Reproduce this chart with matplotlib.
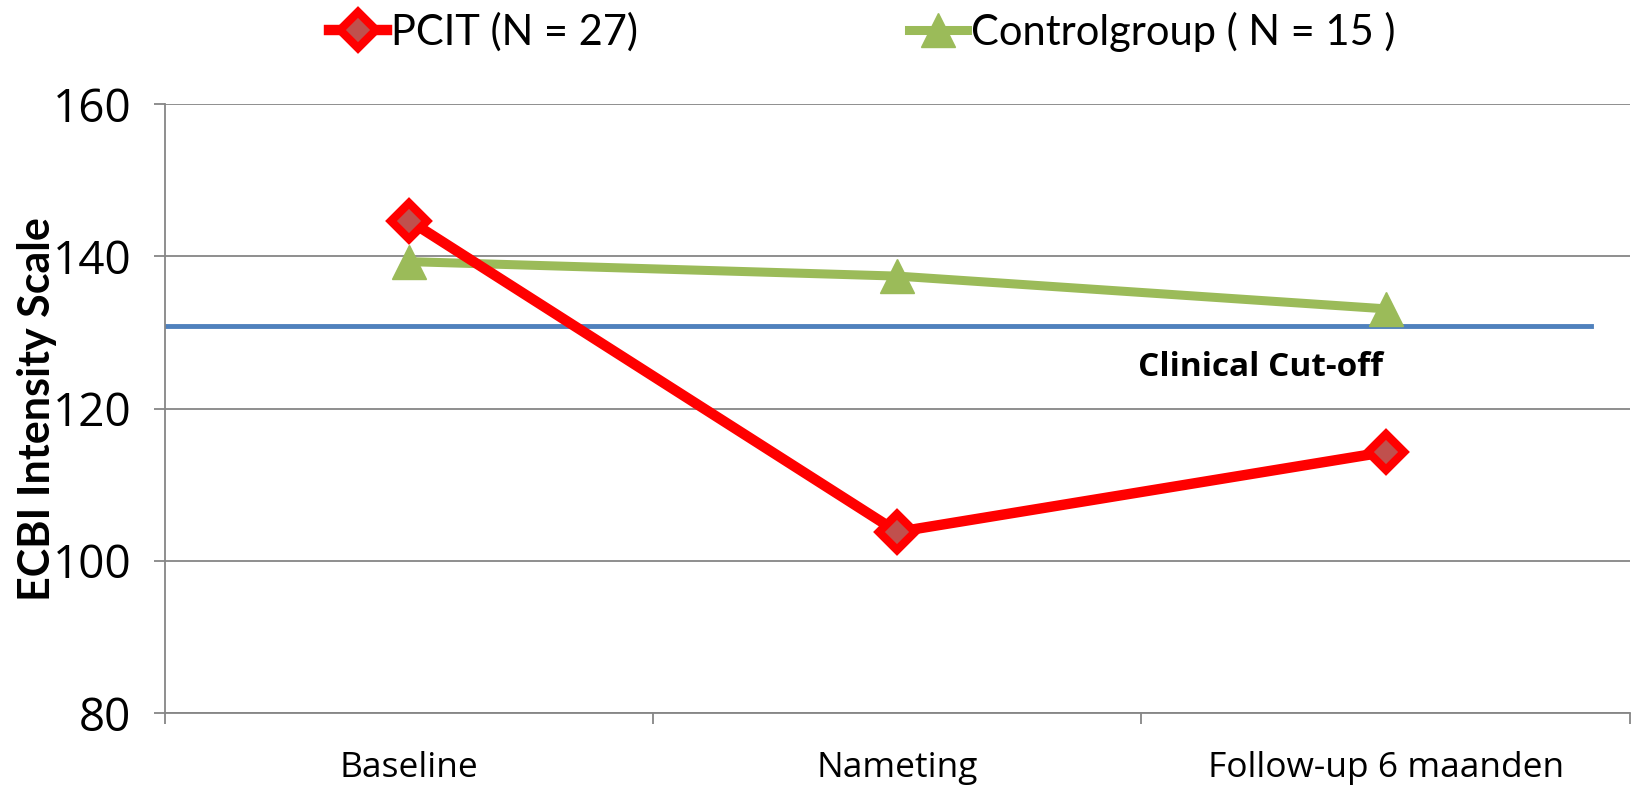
import matplotlib.pyplot as plt

categories = ['Baseline', 'Nameting', 'Follow-up 6 maanden']
pcit = [144.7, 103.8, 114.3]
control = [139.3, 137.4, 133.1]
cutoff = 130.9
y_ticks = [80, 100, 120, 140, 160]

plt.rcParams['font.family'] = ['Open Sans', 'DejaVu Sans']

fig = plt.figure(figsize=(16.33, 7.88), dpi=100)
ax = fig.add_axes([0.101, 0.095, 0.897, 0.773])

x = list(range(len(categories)))

ax.plot([-0.5, 2.42], [cutoff, cutoff], color='#4F81BD', lw=3.5, zorder=2)
ax.plot(x, control, color='#9BBB59', lw=6.5, marker='^', markersize=25,
        markerfacecolor='#9BBB59', markeredgecolor='#9BBB59',
        label='Controlgroup ( N = 15 )', zorder=3)
ax.plot(x, pcit, color='#FF0000', lw=7.5, marker='D', markersize=18,
        markerfacecolor='#C0504D', markeredgecolor='#FF0000', markeredgewidth=6,
        label='PCIT (N = 27)', zorder=4)

ax.text(1.743, 125.4, 'Clinical Cut-off', fontsize=24, fontweight='bold',
        ha='center', va='center')

ax.set_xlim(-0.5, 2.5)
ax.set_ylim(80, 160)
ax.set_yticks(y_ticks)
ax.set_xticks([-0.5, 0.5, 1.5, 2.5])
ax.set_xticklabels([])
ax.set_xticks(x, minor=True)
ax.set_xticklabels(categories, minor=True, fontsize=25.5)
ax.tick_params(axis='x', which='minor', length=0, pad=27)
ax.tick_params(axis='x', which='major', length=8, color='#868686', width=1.3)
ax.tick_params(axis='y', length=8, color='#868686', width=1.3, labelsize=33, pad=16)

ax.grid(axis='y', color='#868686', lw=1.3)
ax.set_axisbelow(True)
for s in ['top', 'right']:
    ax.spines[s].set_visible(False)
for s in ['left', 'bottom']:
    ax.spines[s].set_color('#868686')
    ax.spines[s].set_linewidth(1.3)

ax.set_ylabel('ECBI Intensity Scale', fontsize=31, fontweight='bold',
              family=['Lato', 'DejaVu Sans'])
ax.yaxis.set_label_coords(-0.074, 0.5)

handles, labels = ax.get_legend_handles_labels()
fig.legend(handles[::-1], labels[::-1], loc='center', bbox_to_anchor=(0.528, 0.960),
           ncol=2, frameon=False, handlelength=1.4, handletextpad=0.1,
           columnspacing=6.5, prop={'family': ['Lato', 'DejaVu Sans'], 'size': 30})

fig.savefig('out.png', dpi=100)
